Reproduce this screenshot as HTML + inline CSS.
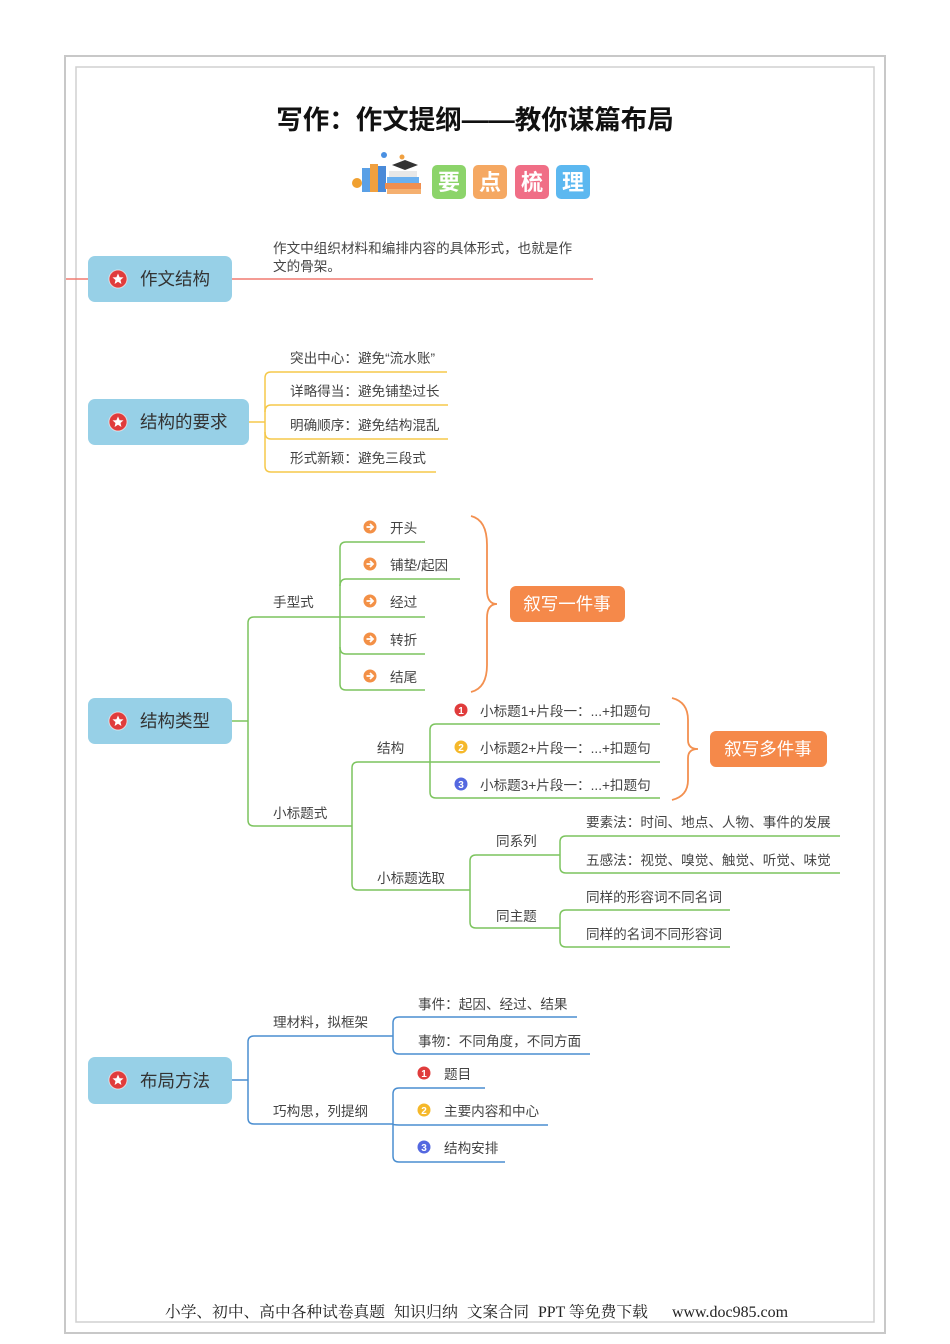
<!DOCTYPE html>
<html><head><meta charset="utf-8">
<style>
body{margin:0;background:#fff;}
svg{display:block;}
text{font-family:"Liberation Sans","Noto Sans CJK SC",sans-serif;fill:#444;}
.t{font-size:13.6px;}
.n{font-size:17.5px;fill:#333;}
.w{font-size:17.5px;fill:#fff;}
</style></head><body>
<svg width="950" height="1344" viewBox="0 0 950 1344" xmlns="http://www.w3.org/2000/svg">
<rect x="65" y="56" width="820" height="1277" fill="none" stroke="#c8c8c8" stroke-width="2"/>
<rect x="76" y="67" width="798" height="1255" fill="none" stroke="#d0d0d0" stroke-width="1.5"/>
<text x="475" y="129" text-anchor="middle" style="font-size:26.5px;font-weight:bold;fill:#111">写作：作文提纲——教你谋篇布局</text>
<!-- icon -->
<g>
<rect x="362" y="168" width="8" height="24" fill="#5aa0e6"/><rect x="370" y="164" width="8" height="28" fill="#f0a040"/><rect x="378" y="166" width="8" height="26" fill="#4a8ad8"/>
<rect x="385" y="183" width="36" height="6" fill="#f08f50"/><rect x="387" y="177" width="32" height="6" fill="#6ab0f0"/><rect x="389" y="171" width="28" height="6" fill="#e8e8e8"/>
<rect x="387" y="189" width="34" height="5" fill="#f5b070"/>
<polygon points="392,165 405,160 418,165 405,170" fill="#333"/>
<circle cx="384" cy="155" r="3" fill="#4a90e2"/><circle cx="402" cy="157" r="2.5" fill="#f0a040"/><circle cx="357" cy="183" r="5" fill="#f0a030"/>
</g>
<rect x="432" y="165" width="34" height="34" rx="5" fill="#8cd46a"/><text x="449" y="190" text-anchor="middle" style="font-size:22px;font-weight:bold;fill:#fff">要</text>
<rect x="473" y="165" width="34" height="34" rx="5" fill="#f5a862"/><text x="490" y="190" text-anchor="middle" style="font-size:22px;font-weight:bold;fill:#fff">点</text>
<rect x="515" y="165" width="34" height="34" rx="5" fill="#f06e86"/><text x="532" y="190" text-anchor="middle" style="font-size:22px;font-weight:bold;fill:#fff">梳</text>
<rect x="556" y="165" width="34" height="34" rx="5" fill="#5cb8f0"/><text x="573" y="190" text-anchor="middle" style="font-size:22px;font-weight:bold;fill:#fff">理</text>

<defs><g id="star"><circle r="9" fill="#e03c3c"/><circle r="9" fill="none" stroke="#fff" stroke-width="1" opacity="0.6"/><polygon points="0,-5.5 1.6,-1.8 5.5,-1.6 2.5,1 3.4,5 0,2.8 -3.4,5 -2.5,1 -5.5,-1.6 -1.6,-1.8" fill="#fff"/></g>
<g id="arr"><circle r="6.5" fill="#f39046"/><path d="M-3.5,0 H2 M0,-3 L3,0 L0,3" stroke="#fff" stroke-width="1.8" fill="none"/></g></defs>

<!-- section 1 -->
<line x1="66" y1="279" x2="593" y2="279" stroke="#f07a70" stroke-width="1.5"/>
<rect x="88" y="256" width="144" height="46" rx="7" fill="#97d0e7"/>
<use href="#star" x="118" y="279"/><text x="140" y="285" class="n">作文结构</text>
<text x="273" y="253" class="t">作文中组织材料和编排内容的具体形式，也就是作</text>
<text x="273" y="271" class="t">文的骨架。</text>

<!-- section 2 -->
<g fill="none" stroke="#f5c84a" stroke-width="1.5">
<path d="M249,422 H265"/>
<path d="M265,422 V378 Q265,372 271,372 H447"/>
<path d="M265,412 Q265,405 271,405 H448"/>
<path d="M265,432 Q265,439 271,439 H448"/>
<path d="M265,422 V466 Q265,472 271,472 H436"/>
</g>
<rect x="88" y="399" width="161" height="46" rx="7" fill="#97d0e7"/>
<use href="#star" x="118" y="422"/><text x="140" y="428" class="n">结构的要求</text>
<text x="290" y="363" class="t">突出中心：避免“流水账”</text>
<text x="290" y="396" class="t">详略得当：避免铺垫过长</text>
<text x="290" y="430" class="t">明确顺序：避免结构混乱</text>
<text x="290" y="463" class="t">形式新颖：避免三段式</text>

<!-- section 3 -->
<g fill="none" stroke="#7cc45e" stroke-width="1.5">
<path d="M232,721 H248"/>
<path d="M248,721 V623 Q248,617 254,617 H340"/>
<path d="M248,721 V820 Q248,826 254,826 H352"/>
<path d="M340,617 V548 Q340,542 346,542 H425"/>
<path d="M340,586 Q340,579 346,579 H460"/>
<path d="M340,617 H425"/>
<path d="M340,647 Q340,654 346,654 H425"/>
<path d="M340,617 V684 Q340,690 346,690 H425"/>
<path d="M352,826 V768 Q352,762 358,762 H430"/>
<path d="M352,826 V884 Q352,890 358,890 H470"/>
<path d="M430,762 V730 Q430,724 436,724 H660"/>
<path d="M430,762 H660"/>
<path d="M430,762 V792 Q430,798 436,798 H660"/>
<path d="M470,890 V861 Q470,855 476,855 H560"/>
<path d="M470,890 V922 Q470,928 476,928 H560"/>
<path d="M560,855 V842 Q560,836 566,836 H840"/>
<path d="M560,855 V867 Q560,873 566,873 H840"/>
<path d="M560,928 V916 Q560,910 566,910 H730"/>
<path d="M560,928 V941 Q560,947 566,947 H730"/>
</g>
<g fill="none" stroke="#f39050" stroke-width="1.8">
<path d="M471,516 Q487,520 487,545 V590 Q487,604 497,604 Q487,604 487,618 V665 Q487,688 471,692"/>
<path d="M672,698 Q688,702 688,720 V740 Q688,749 698,749 Q688,749 688,758 V780 Q688,796 672,800"/>
</g>
<rect x="88" y="698" width="144" height="46" rx="7" fill="#97d0e7"/>
<use href="#star" x="118" y="721"/><text x="140" y="727" class="n">结构类型</text>
<text x="273" y="607" class="t">手型式</text>
<use href="#arr" x="370" y="527"/><text x="390" y="533" class="t">开头</text>
<use href="#arr" x="370" y="564"/><text x="390" y="570" class="t">铺垫/起因</text>
<use href="#arr" x="370" y="601"/><text x="390" y="607" class="t">经过</text>
<use href="#arr" x="370" y="639"/><text x="390" y="645" class="t">转折</text>
<use href="#arr" x="370" y="676"/><text x="390" y="682" class="t">结尾</text>
<rect x="510" y="586" width="115" height="36" rx="6" fill="#f5894a"/><text x="567" y="610" text-anchor="middle" class="w">叙写一件事</text>
<text x="273" y="818" class="t">小标题式</text>
<text x="377" y="753" class="t">结构</text>
<circle cx="461" cy="710" r="6.5" fill="#e03c3c"/><text x="461" y="714" text-anchor="middle" style="font-size:10px;fill:#fff;font-weight:bold">1</text>
<circle cx="461" cy="747" r="6.5" fill="#f5b82a"/><text x="461" y="751" text-anchor="middle" style="font-size:10px;fill:#fff;font-weight:bold">2</text>
<circle cx="461" cy="784" r="6.5" fill="#5468e0"/><text x="461" y="788" text-anchor="middle" style="font-size:10px;fill:#fff;font-weight:bold">3</text>
<text x="480" y="716" class="t">小标题1+片段一：...+扣题句</text>
<text x="480" y="753" class="t">小标题2+片段一：...+扣题句</text>
<text x="480" y="790" class="t">小标题3+片段一：...+扣题句</text>
<rect x="710" y="731" width="117" height="36" rx="6" fill="#f5894a"/><text x="768" y="755" text-anchor="middle" class="w">叙写多件事</text>
<text x="377" y="883" class="t">小标题选取</text>
<text x="496" y="846" class="t">同系列</text>
<text x="496" y="921" class="t">同主题</text>
<text x="586" y="827" class="t">要素法：时间、地点、人物、事件的发展</text>
<text x="586" y="865" class="t">五感法：视觉、嗅觉、触觉、听觉、味觉</text>
<text x="586" y="902" class="t">同样的形容词不同名词</text>
<text x="586" y="939" class="t">同样的名词不同形容词</text>

<!-- section 4 -->
<g fill="none" stroke="#4a8ed0" stroke-width="1.5">
<path d="M232,1080 H248"/>
<path d="M248,1080 V1042 Q248,1036 254,1036 H393"/>
<path d="M248,1080 V1118 Q248,1124 254,1124 H393"/>
<path d="M393,1036 V1023 Q393,1017 399,1017 H577"/>
<path d="M393,1036 V1048 Q393,1054 399,1054 H590"/>
<path d="M393,1124 V1094 Q393,1088 399,1088 H485"/>
<path d="M393,1124 Q393,1125 399,1125 H548"/>
<path d="M393,1124 V1156 Q393,1162 399,1162 H505"/>
</g>
<rect x="88" y="1057" width="144" height="47" rx="7" fill="#97d0e7"/>
<use href="#star" x="118" y="1080"/><text x="140" y="1087" class="n">布局方法</text>
<text x="273" y="1027" class="t">理材料，拟框架</text>
<text x="273" y="1116" class="t">巧构思，列提纲</text>
<text x="418" y="1009" class="t">事件：起因、经过、结果</text>
<text x="418" y="1046" class="t">事物：不同角度，不同方面</text>
<circle cx="424" cy="1073" r="6.5" fill="#e03c3c"/><text x="424" y="1077" text-anchor="middle" style="font-size:10px;fill:#fff;font-weight:bold">1</text>
<circle cx="424" cy="1110" r="6.5" fill="#f5b82a"/><text x="424" y="1114" text-anchor="middle" style="font-size:10px;fill:#fff;font-weight:bold">2</text>
<circle cx="424" cy="1147" r="6.5" fill="#5468e0"/><text x="424" y="1151" text-anchor="middle" style="font-size:10px;fill:#fff;font-weight:bold">3</text>
<text x="444" y="1079" class="t">题目</text>
<text x="444" y="1116" class="t">主要内容和中心</text>
<text x="444" y="1153" class="t">结构安排</text>

<g style="font-family:'Liberation Serif','Noto Serif CJK SC',serif;font-size:15.5px;">
<text x="165" y="1317" textLength="220" lengthAdjust="spacingAndGlyphs" style="font-family:inherit;fill:#222">小学、初中、高中各种试卷真题</text>
<text x="394" y="1317" textLength="64" lengthAdjust="spacingAndGlyphs" style="font-family:inherit;fill:#222">知识归纳</text>
<text x="467" y="1317" textLength="62" lengthAdjust="spacingAndGlyphs" style="font-family:inherit;fill:#222">文案合同</text>
<text x="538" y="1317" textLength="110" lengthAdjust="spacingAndGlyphs" style="font-family:inherit;fill:#222">PPT 等免费下载</text>
<text x="672" y="1317" textLength="116" lengthAdjust="spacingAndGlyphs" style="font-family:inherit;fill:#222">www.doc985.com</text>
</g>
</svg>
</body></html>
